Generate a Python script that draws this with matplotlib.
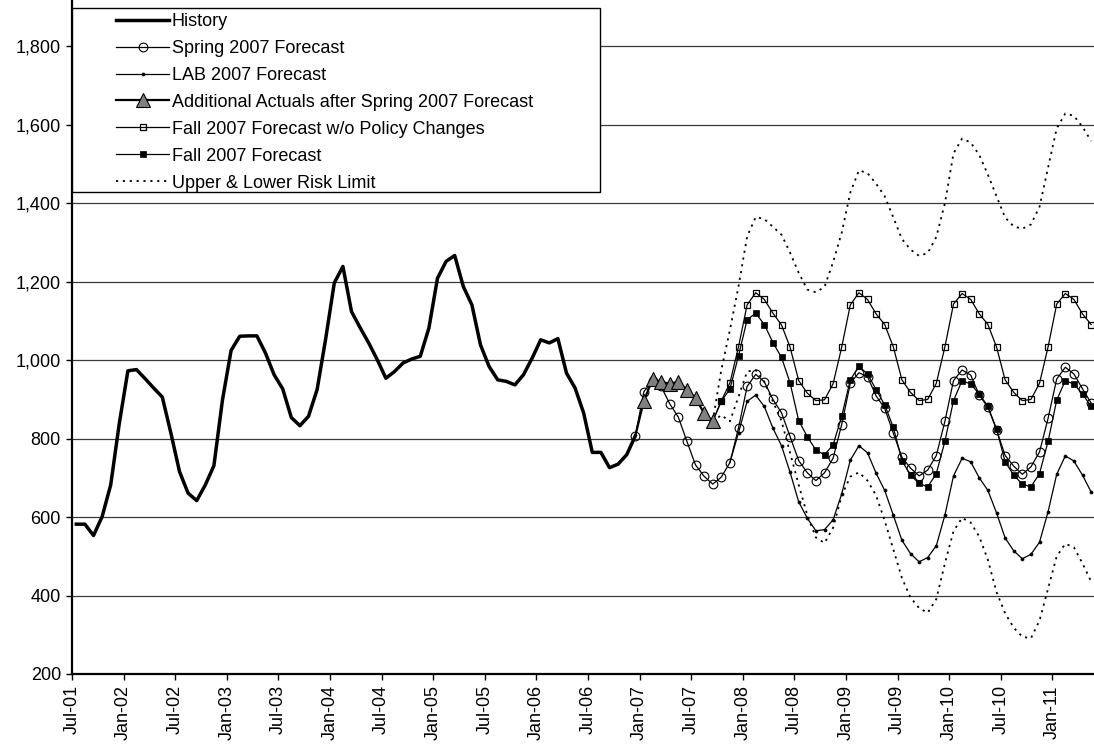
import matplotlib
matplotlib.use('Agg')
import matplotlib.pyplot as plt
from matplotlib.patches import Rectangle
from matplotlib.lines import Line2D
from matplotlib.ticker import FuncFormatter
import numpy as np

plt.rcParams['font.family'] = ['Liberation Sans', 'DejaVu Sans']

# ---- data (month index: 0 = Jul-2001) ----
tick_positions = list(range(0, 115, 6))
tick_labels = ['Jul-01', 'Jan-02', 'Jul-02', 'Jan-03', 'Jul-03', 'Jan-04', 'Jul-04',
               'Jan-05', 'Jul-05', 'Jan-06', 'Jul-06', 'Jan-07', 'Jul-07', 'Jan-08',
               'Jul-08', 'Jan-09', 'Jul-09', 'Jan-10', 'Jul-10', 'Jan-11']
y_ticks = [200, 400, 600, 800, 1000, 1200, 1400, 1600, 1800]

history_start = 0
history = [582, 582, 553, 601, 682, 839, 973, 976, 953, 929, 906, 814, 716, 661, 642,
           682, 731, 899, 1025, 1061, 1062, 1062, 1018, 963, 927, 854, 833, 857, 925,
           1055, 1197, 1239, 1124, 1083, 1044, 1001, 954, 971, 993, 1003, 1010, 1082,
           1209, 1252, 1267, 1188, 1141, 1039, 984, 950, 946, 937, 963, 1005, 1052,
           1044, 1055, 967, 929, 865, 765, 765, 726, 735, 759, 807]

spring_start = 65
spring = [807, 920, 948, 933, 889, 855, 793, 733, 704, 684, 702, 739, 827, 933, 964,
          945, 900, 866, 805, 744, 713, 693, 713, 750, 836, 941, 968, 958, 909, 877,
          814, 753, 725, 705, 720, 757, 844, 948, 975, 962, 911, 880, 823, 757, 730,
          709, 728, 766, 852, 952, 982, 965, 927, 891]

lab_start = 76
lab = [739, 815, 895, 911, 882, 827, 782, 714, 639, 597, 565, 568, 593, 659, 745,
       782, 764, 712, 668, 605, 541, 507, 486, 497, 527, 605, 705, 750, 741, 700, 668,
       611, 547, 514, 494, 505, 536, 614, 709, 756, 743, 707, 664]

actuals_start = 65
actuals = [807, 897, 951, 945, 940, 945, 924, 903, 865, 844]

fall_start = 74
fall_wo_policy = [844, 896, 942, 1034, 1141, 1172, 1155, 1120, 1090, 1033, 948, 916,
                  897, 899, 940, 1033, 1141, 1172, 1155, 1118, 1091, 1034, 950, 918,
                  897, 900, 941, 1034, 1143, 1170, 1155, 1118, 1091, 1034, 950, 918,
                  897, 900, 941, 1034, 1143, 1170, 1155, 1118, 1091]
fall = [844, 896, 926, 1011, 1103, 1120, 1091, 1045, 1007, 942, 846, 805, 771, 759,
        784, 857, 950, 984, 965, 925, 886, 829, 744, 707, 686, 677, 711, 793, 897, 948,
        939, 914, 882, 825, 741, 707, 684, 677, 711, 793, 898, 948, 939, 914, 882]

risk_start = 74
upper = [844, 975, 1077, 1188, 1315, 1365, 1360, 1340, 1320, 1274, 1223, 1180, 1173,
         1187, 1250, 1325, 1427, 1484, 1477, 1450, 1418, 1364, 1309, 1282, 1266, 1273,
         1314, 1400, 1527, 1565, 1555, 1523, 1473, 1418, 1364, 1341, 1335, 1346, 1391,
         1491, 1591, 1629, 1623, 1595, 1559]
lower = [844, 860, 844, 907, 971, 975, 945, 895, 845, 764, 682, 605, 548, 534, 573,
         655, 703, 714, 693, 655, 591, 518, 445, 395, 368, 356, 391, 482, 564, 598, 586,
         550, 491, 409, 355, 318, 295, 291, 336, 418, 500, 532, 523, 482, 436]

legend_labels = ['History', 'Spring 2007 Forecast', 'LAB 2007 Forecast',
                 'Additional Actuals after Spring 2007 Forecast',
                 'Fall 2007 Forecast w/o Policy Changes', 'Fall 2007 Forecast',
                 'Upper & Lower Risk Limit']


def xs(start, values):
    return np.arange(start, start + len(values)) + 0.5


W, H = 1094, 749
fig = plt.figure(figsize=(W / 100, H / 100), dpi=100)
ax = fig.add_axes([72 / W, 75 / H, 1 - 72 / W, 674 / H])

FS = 13
dot = (0, (1.2, 2.6))

styles = {
    'history': dict(color='black', lw=2.5),
    'spring': dict(color='black', lw=0.9, marker='o', ms=6.3, mfc='none', mec='black', mew=0.8),
    'lab': dict(color='black', lw=0.9, marker='o', ms=2.2, mfc='black', mec='black', mew=0.5),
    'actuals': dict(color='black', lw=1.6, marker='^', ms=10, mfc='#808080', mec='black', mew=0.8),
    'fallwo': dict(color='black', lw=0.9, marker='s', ms=5.0, mfc='none', mec='black', mew=0.9),
    'fall': dict(color='black', lw=0.9, marker='s', ms=4.2, mfc='black', mec='black', mew=0.5),
    'risk': dict(color='black', lw=1.3, ls=dot),
}

ax.plot(xs(history_start, history), history, **styles['history'], zorder=3)
ax.plot(xs(spring_start, spring), spring, **styles['spring'], zorder=3)
ax.plot(xs(lab_start, lab), lab, **styles['lab'], markevery=list(range(1, len(lab))), zorder=3)
ax.plot(xs(fall_start, fall_wo_policy), fall_wo_policy, **styles['fallwo'],
        markevery=list(range(1, len(fall_wo_policy))), zorder=3)
ax.plot(xs(fall_start, fall), fall, **styles['fall'],
        markevery=list(range(1, len(fall))), zorder=3)
ax.plot(xs(risk_start, upper), upper, **styles['risk'], zorder=3)
ax.plot(xs(risk_start, lower), lower, **styles['risk'], zorder=3)
ax.plot(xs(actuals_start, actuals), actuals, **styles['actuals'],
        markevery=list(range(1, len(actuals))), zorder=3.5)

ax.set_xlim(0, (W - 72) / 8.6)
ax.set_ylim(200, 200 + 674 / 78.45 * 200)

ax.set_xticks(tick_positions)
ax.set_xticklabels(tick_labels, rotation=90, fontsize=FS)
ax.set_yticks(y_ticks)
ax.yaxis.set_major_formatter(FuncFormatter(lambda v, p: f'{int(v):,}'))
ax.tick_params(axis='y', labelsize=FS, length=4, width=1, pad=4, direction='out')
ax.tick_params(axis='x', labelsize=FS, length=4, width=1, pad=4, direction='out')

ax.yaxis.grid(True, color='#3a3a3a', lw=0.9)
ax.set_axisbelow(True)
for s in ['top', 'right']:
    ax.spines[s].set_visible(False)
for s in ['left', 'bottom']:
    ax.spines[s].set_linewidth(1.6)

# legend frame
frame = Rectangle((72 / W, 1 - 192 / H), (600 - 72) / W, (192 - 8) / H,
                  transform=fig.transFigure, facecolor='white', edgecolor='black',
                  lw=1.0, zorder=4, clip_on=False)
ax.add_patch(frame)

handles = [
    Line2D([], [], **styles['history']),
    Line2D([], [], **styles['spring']),
    Line2D([], [], **styles['lab']),
    Line2D([], [], **styles['actuals']),
    Line2D([], [], **styles['fallwo']),
    Line2D([], [], **styles['fall']),
    Line2D([], [], **styles['risk']),
]
leg = ax.legend(handles, legend_labels, loc='upper left',
                bbox_to_anchor=(116 / W, 1 - 13 / H), bbox_transform=fig.transFigure,
                frameon=False, borderpad=0, borderaxespad=0, handlelength=2.95,
                handletextpad=0.15, labelspacing=0.55, fontsize=FS, numpoints=1)
leg.set_zorder(5)

fig.savefig('out.png', dpi=100)
